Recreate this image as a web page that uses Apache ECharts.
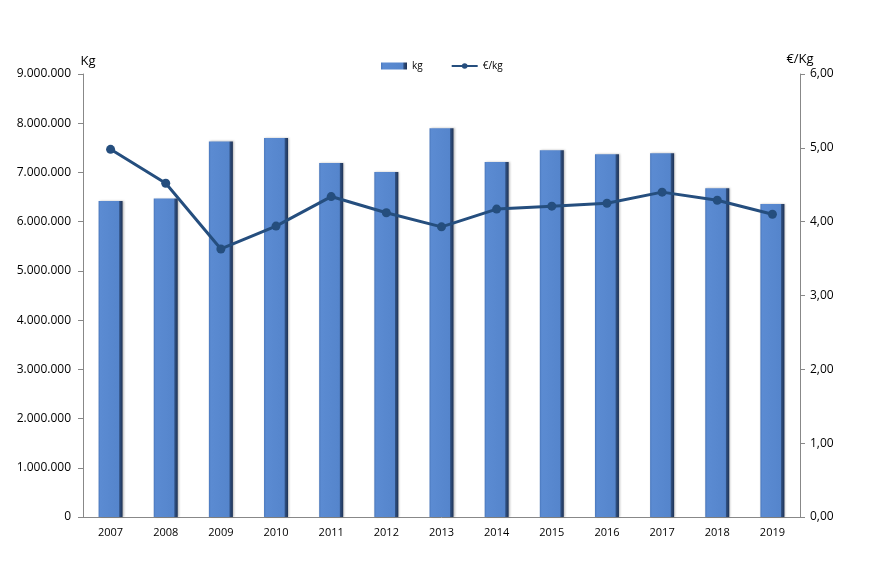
<!DOCTYPE html>
<html><head><meta charset="utf-8">
<script src="https://cdn.jsdelivr.net/npm/echarts@6/dist/echarts.min.js"></script>
<style>html,body{margin:0;padding:0;background:#fff}#c{width:877px;height:563px}</style>
</head><body><div id="c"></div>
<script>
const years = ['2007','2008','2009','2010','2011','2012','2013','2014','2015','2016','2017','2018','2019'];
const kg = [6420000,6470000,7630000,7700000,7190000,7010000,7900000,7210000,7450000,7370000,7390000,6680000,6360000];
const eurKg = [4.98,4.52,3.63,3.94,4.34,4.12,3.93,4.17,4.21,4.25,4.40,4.29,4.10];
const leftTicks = {min:0,max:9000000,interval:1000000};
const rightTicks = {min:0,max:6,interval:1};

function fmtThousands(v){return String(Math.round(v)).replace(/\B(?=(\d{3})+(?!\d))/g,'.');}
const font = 'Open Sans';
const chart = echarts.init(document.getElementById('c'));
const barColor = new echarts.graphic.LinearGradient(0,0,1,0,[
  {offset:0,color:'#4a78bd'},{offset:0.08,color:'#5b8bd2'},{offset:0.84,color:'#5585cc'},{offset:0.88,color:'#2f4f80'},{offset:1,color:'#1f3355'}]);
chart.setOption({
  animation:false,
  textStyle:{fontFamily:font},
  legend:{top:56,left:376,itemGap:28,itemWidth:26,itemHeight:7,
    textStyle:{fontSize:10,color:'#000',fontFamily:font},
    data:[{name:'kg',icon:'rect'},{name:'€/kg'}]},
  grid:{left:83,right:77,top:74,bottom:46},
  xAxis:{type:'category',data:years,
    axisLine:{lineStyle:{color:'#888'}},axisTick:{show:false},
    axisLabel:{color:'#000',fontSize:11,margin:10}},
  yAxis:[
    {type:'value',min:leftTicks.min,max:leftTicks.max,interval:leftTicks.interval,
     name:'Kg',nameGap:6,nameTextStyle:{color:'#000',fontSize:13,align:'center',padding:[0,0,0,10]},
     axisLine:{show:true,lineStyle:{color:'#888'}},axisTick:{show:true,length:5,lineStyle:{color:'#888'}},
     splitLine:{show:false},
     axisLabel:{color:'#000',fontSize:12,margin:12,formatter:fmtThousands}},
    {type:'value',min:rightTicks.min,max:rightTicks.max,interval:rightTicks.interval,
     name:'€/Kg',nameGap:8,nameTextStyle:{color:'#000',fontSize:13,align:'center'},
     axisLine:{show:true,lineStyle:{color:'#888'}},axisTick:{show:true,length:5,lineStyle:{color:'#888'}},
     splitLine:{show:false},
     axisLabel:{color:'#000',fontSize:12,margin:10,formatter:v=>v.toFixed(2).replace('.',',')}}
  ],
  series:[
    {name:'kg',type:'bar',data:kg,barWidth:24,yAxisIndex:0,
     itemStyle:{color:barColor,shadowColor:'rgba(0,0,0,0.25)',shadowBlur:2,shadowOffsetX:1,shadowOffsetY:0}},
    {name:'€/kg',type:'line',data:eurKg,yAxisIndex:1,symbol:'circle',symbolSize:9,
     lineStyle:{color:'#254e7e',width:3},itemStyle:{color:'#254e7e'}}
  ]
});
</script></body></html>
